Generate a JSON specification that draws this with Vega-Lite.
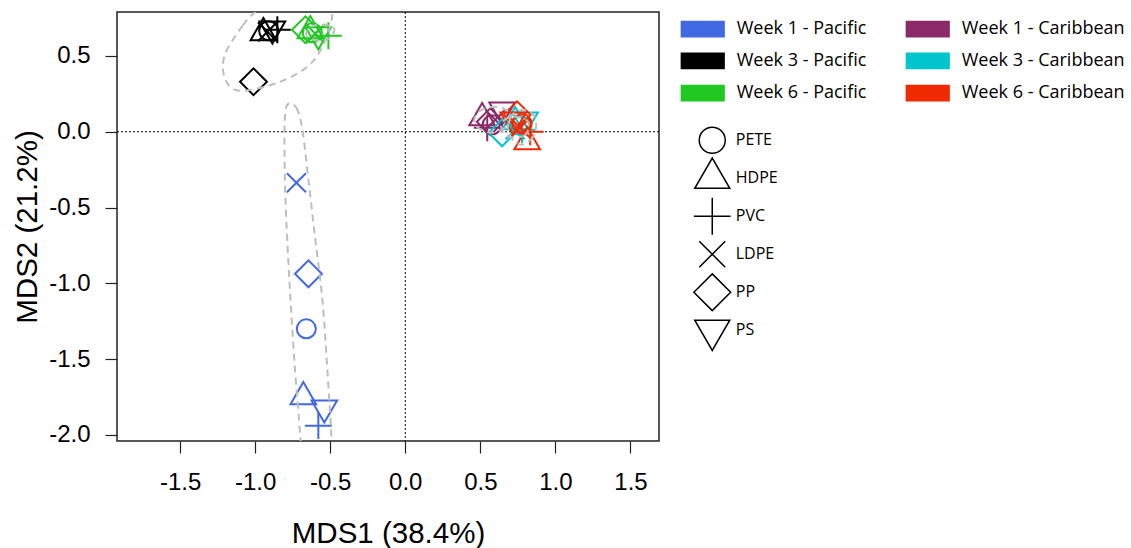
{
  "$schema": "https://vega.github.io/schema/vega-lite/v6.json",
  "width": 542,
  "height": 429,
  "autosize": "none",
  "padding": {"left": 117, "top": 12, "right": 472, "bottom": 107},
  "background": "white",
  "config": {"view": {"stroke": "#222222", "strokeWidth": 1.5}, "font": "Liberation Sans"},
  "datasets": {
    "pts": [
      {"group": "Week 1 - Pacific", "plastic": "LDPE", "MDS1": -0.725, "MDS2": -0.336},
      {"group": "Week 1 - Pacific", "plastic": "PP", "MDS1": -0.645, "MDS2": -0.937},
      {"group": "Week 1 - Pacific", "plastic": "PETE", "MDS1": -0.659, "MDS2": -1.300},
      {"group": "Week 1 - Pacific", "plastic": "HDPE", "MDS1": -0.679, "MDS2": -1.748},
      {"group": "Week 1 - Pacific", "plastic": "PS", "MDS1": -0.539, "MDS2": -1.821},
      {"group": "Week 1 - Pacific", "plastic": "PVC", "MDS1": -0.579, "MDS2": -1.939},
      {"group": "Week 3 - Pacific", "plastic": "PP", "MDS1": -1.011, "MDS2": 0.330},
      {"group": "Week 3 - Pacific", "plastic": "HDPE", "MDS1": -0.945, "MDS2": 0.653},
      {"group": "Week 3 - Pacific", "plastic": "PS", "MDS1": -0.885, "MDS2": 0.679},
      {"group": "Week 3 - Pacific", "plastic": "LDPE", "MDS1": -0.918, "MDS2": 0.660},
      {"group": "Week 3 - Pacific", "plastic": "PETE", "MDS1": -0.910, "MDS2": 0.666},
      {"group": "Week 3 - Pacific", "plastic": "PVC", "MDS1": -0.852, "MDS2": 0.673},
      {"group": "Week 6 - Pacific", "plastic": "PP", "MDS1": -0.665, "MDS2": 0.673},
      {"group": "Week 6 - Pacific", "plastic": "PETE", "MDS1": -0.619, "MDS2": 0.653},
      {"group": "Week 6 - Pacific", "plastic": "HDPE", "MDS1": -0.632, "MDS2": 0.666},
      {"group": "Week 6 - Pacific", "plastic": "LDPE", "MDS1": -0.599, "MDS2": 0.646},
      {"group": "Week 6 - Pacific", "plastic": "PS", "MDS1": -0.579, "MDS2": 0.640},
      {"group": "Week 6 - Pacific", "plastic": "PVC", "MDS1": -0.512, "MDS2": 0.633},
      {"group": "Week 1 - Caribbean", "plastic": "HDPE", "MDS1": 0.512, "MDS2": 0.092},
      {"group": "Week 1 - Caribbean", "plastic": "PS", "MDS1": 0.645, "MDS2": 0.145},
      {"group": "Week 1 - Caribbean", "plastic": "PP", "MDS1": 0.566, "MDS2": 0.066},
      {"group": "Week 1 - Caribbean", "plastic": "PETE", "MDS1": 0.579, "MDS2": 0.046},
      {"group": "Week 1 - Caribbean", "plastic": "LDPE", "MDS1": 0.599, "MDS2": 0.079},
      {"group": "Week 1 - Caribbean", "plastic": "PVC", "MDS1": 0.546, "MDS2": 0.026},
      {"group": "Week 3 - Caribbean", "plastic": "PP", "MDS1": 0.645, "MDS2": -0.007},
      {"group": "Week 3 - Caribbean", "plastic": "PETE", "MDS1": 0.765, "MDS2": 0.040},
      {"group": "Week 3 - Caribbean", "plastic": "HDPE", "MDS1": 0.732, "MDS2": 0.066},
      {"group": "Week 3 - Caribbean", "plastic": "PVC", "MDS1": 0.778, "MDS2": 0.013},
      {"group": "Week 3 - Caribbean", "plastic": "LDPE", "MDS1": 0.732, "MDS2": 0.013},
      {"group": "Week 3 - Caribbean", "plastic": "PS", "MDS1": 0.798, "MDS2": 0.079},
      {"group": "Week 6 - Caribbean", "plastic": "PP", "MDS1": 0.745, "MDS2": 0.112},
      {"group": "Week 6 - Caribbean", "plastic": "PETE", "MDS1": 0.778, "MDS2": 0.053},
      {"group": "Week 6 - Caribbean", "plastic": "HDPE", "MDS1": 0.812, "MDS2": -0.066},
      {"group": "Week 6 - Caribbean", "plastic": "PVC", "MDS1": 0.832, "MDS2": 0.000},
      {"group": "Week 6 - Caribbean", "plastic": "LDPE", "MDS1": 0.765, "MDS2": 0.026},
      {"group": "Week 6 - Caribbean", "plastic": "PS", "MDS1": 0.719, "MDS2": 0.079}
    ],
    "ell": [
      {"group": "W3P", "i": 1, "MDS1": -0.985, "MDS2": 0.805},
      {"group": "W3P", "i": 2, "MDS1": -1.084, "MDS2": 0.699},
      {"group": "W3P", "i": 3, "MDS1": -1.204, "MDS2": 0.501},
      {"group": "W3P", "i": 4, "MDS1": -1.198, "MDS2": 0.343},
      {"group": "W3P", "i": 5, "MDS1": -1.098, "MDS2": 0.270},
      {"group": "W3P", "i": 6, "MDS1": -0.852, "MDS2": 0.323},
      {"group": "W3P", "i": 7, "MDS1": -0.652, "MDS2": 0.429},
      {"group": "W3P", "i": 8, "MDS1": -0.546, "MDS2": 0.574},
      {"group": "W3P", "i": 9, "MDS1": -0.486, "MDS2": 0.772},
      {"group": "W3P", "i": 10, "MDS1": -0.532, "MDS2": 0.904},
      {"group": "W3P", "i": 11, "MDS1": -0.699, "MDS2": 0.950},
      {"group": "W3P", "i": 12, "MDS1": -0.865, "MDS2": 0.923},
      {"group": "W6P", "i": 1, "MDS1": -0.472, "MDS2": 0.673},
      {"group": "W6P", "i": 2, "MDS1": -0.499, "MDS2": 0.620},
      {"group": "W6P", "i": 3, "MDS1": -0.566, "MDS2": 0.600},
      {"group": "W6P", "i": 4, "MDS1": -0.645, "MDS2": 0.620},
      {"group": "W6P", "i": 5, "MDS1": -0.659, "MDS2": 0.653},
      {"group": "W6P", "i": 6, "MDS1": -0.632, "MDS2": 0.693},
      {"group": "W6P", "i": 7, "MDS1": -0.566, "MDS2": 0.706},
      {"group": "W6P", "i": 8, "MDS1": -0.499, "MDS2": 0.699},
      {"group": "W1P", "i": 1, "MDS1": -0.778, "MDS2": 0.185},
      {"group": "W1P", "i": 2, "MDS1": -0.725, "MDS2": 0.158},
      {"group": "W1P", "i": 3, "MDS1": -0.685, "MDS2": 0.013},
      {"group": "W1P", "i": 4, "MDS1": -0.645, "MDS2": -0.317},
      {"group": "W1P", "i": 5, "MDS1": -0.599, "MDS2": -0.712},
      {"group": "W1P", "i": 6, "MDS1": -0.552, "MDS2": -1.108},
      {"group": "W1P", "i": 7, "MDS1": -0.519, "MDS2": -1.570},
      {"group": "W1P", "i": 8, "MDS1": -0.492, "MDS2": -2.032},
      {"group": "W1P", "i": 9, "MDS1": -0.499, "MDS2": -2.230},
      {"group": "W1P", "i": 10, "MDS1": -0.592, "MDS2": -2.328},
      {"group": "W1P", "i": 11, "MDS1": -0.679, "MDS2": -2.230},
      {"group": "W1P", "i": 12, "MDS1": -0.699, "MDS2": -2.012},
      {"group": "W1P", "i": 13, "MDS1": -0.739, "MDS2": -1.504},
      {"group": "W1P", "i": 14, "MDS1": -0.772, "MDS2": -0.976},
      {"group": "W1P", "i": 15, "MDS1": -0.798, "MDS2": -0.449},
      {"group": "W1P", "i": 16, "MDS1": -0.805, "MDS2": -0.053},
      {"group": "W1P", "i": 17, "MDS1": -0.798, "MDS2": 0.132},
      {"group": "W1C", "i": 1, "MDS1": 0.699, "MDS2": 0.092},
      {"group": "W1C", "i": 2, "MDS1": 0.665, "MDS2": 0.026},
      {"group": "W1C", "i": 3, "MDS1": 0.579, "MDS2": -0.007},
      {"group": "W1C", "i": 4, "MDS1": 0.486, "MDS2": 0.026},
      {"group": "W1C", "i": 5, "MDS1": 0.459, "MDS2": 0.079},
      {"group": "W1C", "i": 6, "MDS1": 0.499, "MDS2": 0.139},
      {"group": "W1C", "i": 7, "MDS1": 0.592, "MDS2": 0.165},
      {"group": "W1C", "i": 8, "MDS1": 0.672, "MDS2": 0.145},
      {"group": "W3C", "i": 1, "MDS1": 0.825, "MDS2": 0.033},
      {"group": "W3C", "i": 2, "MDS1": 0.798, "MDS2": -0.020},
      {"group": "W3C", "i": 3, "MDS1": 0.732, "MDS2": -0.040},
      {"group": "W3C", "i": 4, "MDS1": 0.659, "MDS2": -0.013},
      {"group": "W3C", "i": 5, "MDS1": 0.639, "MDS2": 0.040},
      {"group": "W3C", "i": 6, "MDS1": 0.672, "MDS2": 0.086},
      {"group": "W3C", "i": 7, "MDS1": 0.739, "MDS2": 0.099},
      {"group": "W3C", "i": 8, "MDS1": 0.805, "MDS2": 0.079},
      {"group": "W6C", "i": 1, "MDS1": 0.872, "MDS2": 0.046},
      {"group": "W6C", "i": 2, "MDS1": 0.852, "MDS2": -0.033},
      {"group": "W6C", "i": 3, "MDS1": 0.778, "MDS2": -0.086},
      {"group": "W6C", "i": 4, "MDS1": 0.705, "MDS2": -0.040},
      {"group": "W6C", "i": 5, "MDS1": 0.685, "MDS2": 0.040},
      {"group": "W6C", "i": 6, "MDS1": 0.712, "MDS2": 0.112},
      {"group": "W6C", "i": 7, "MDS1": 0.785, "MDS2": 0.145},
      {"group": "W6C", "i": 8, "MDS1": 0.852, "MDS2": 0.112}
    ]
  },
  "layer": [
    {
      "data": {"values": [{}]},
      "mark": {"type": "rule", "color": "black", "strokeWidth": 1, "strokeDash": [2, 2]},
      "encoding": {"x": {"datum": 0, "type": "quantitative"}}
    },
    {
      "data": {"values": [{}]},
      "mark": {"type": "rule", "color": "black", "strokeWidth": 1, "strokeDash": [2, 2]},
      "encoding": {"y": {"datum": 0, "type": "quantitative"}}
    },
    {
      "data": {"name": "pts"},
      "mark": {"type": "point", "filled": false, "size": 361, "opacity": 1, "clip": true},
      "encoding": {
        "strokeWidth": {"value": 2},
        "x": {
          "field": "MDS1", "type": "quantitative",
          "scale": {"domain": [-1.92, 1.69], "nice": false, "zero": false},
          "axis": {
            "values": [-1.5, -1, -0.5, 0, 0.5, 1, 1.5],
            "labelExpr": "replace(format(datum.value, '.1f'), '\u2212', '-')",
            "domain": false, "grid": false, "tickSize": 12, "tickColor": "#222222", "tickWidth": 1.2,
            "labelFont": "Liberation Sans", "labelFontSize": 24, "labelColor": "black", "labelPadding": 17,
            "title": "MDS1 (38.4%)", "titleFont": "Liberation Sans", "titleFontSize": 29.5,
            "titleFontWeight": "normal", "titleColor": "black", "titlePadding": 25
          }
        },
        "y": {
          "field": "MDS2", "type": "quantitative",
          "scale": {"domain": [-2.04, 0.79], "nice": false, "zero": false},
          "axis": {
            "values": [-2, -1.5, -1, -0.5, 0, 0.5],
            "labelExpr": "replace(format(datum.value, '.1f'), '\u2212', '-')",
            "domain": false, "grid": false, "tickSize": 12, "tickColor": "#222222", "tickWidth": 1.2,
            "labelFont": "Liberation Sans", "labelFontSize": 24, "labelColor": "black", "labelPadding": 15,
            "title": "MDS2 (21.2%)", "titleFont": "Liberation Sans", "titleFontSize": 29.5,
            "titleFontWeight": "normal", "titleColor": "black", "titlePadding": 6
          }
        },
        "color": {
          "field": "group", "type": "nominal",
          "scale": {
            "domain": ["Week 1 - Pacific", "Week 3 - Pacific", "Week 6 - Pacific", "Week 1 - Caribbean", "Week 3 - Caribbean", "Week 6 - Caribbean"],
            "range": ["#4169E1", "#000000", "#22C822", "#8B2A68", "#00C5CD", "#F02A00"]
          },
          "legend": {
            "orient": "none", "legendX": 576.25, "legendY": 7.25, "columns": 2, "columnPadding": 35, "rowPadding": 9.2,
            "symbolType": "M-2.6,-0.9H2.6M-2.6,-0.8H2.6M-2.6,-0.7H2.6M-2.6,-0.6H2.6M-2.6,-0.5H2.6M-2.6,-0.4H2.6M-2.6,-0.3H2.6M-2.6,-0.2H2.6M-2.6,-0.1H2.6M-2.6,0H2.6M-2.6,0.1H2.6M-2.6,0.2H2.6M-2.6,0.3H2.6M-2.6,0.4H2.6M-2.6,0.5H2.6M-2.6,0.6H2.6M-2.6,0.7H2.6M-2.6,0.8H2.6M-2.6,0.9H2.6",
            "symbolSize": 289, "symbolStrokeWidth": 1.5,
            "labelFont": "Open Sans", "labelFontSize": 18, "labelColor": "black", "labelOffset": 24.5, "labelLimit": 400,
            "title": null, "padding": 0
          }
        },
        "shape": {
          "field": "plastic", "type": "nominal",
          "scale": {
            "domain": ["PETE", "HDPE", "PVC", "LDPE", "PP", "PS"],
            "range": [
              "circle",
              "M-1.347,0.778L1.347,0.778L0,-1.555Z",
              "M-1.414,0H1.414M0,-1.414V1.414",
              "M-1,-1L1,1M-1,1L1,-1",
              "M-1.414,0L0,-1.414L1.414,0L0,1.414Z",
              "M-1.347,-0.778L1.347,-0.778L0,1.555Z"
            ]
          },
          "legend": {
            "orient": "none", "legendX": 581.25, "legendY": 114.25, "rowPadding": -10.1, "gridAlign": "all",
            "symbolSize": 676, "symbolStrokeColor": "black", "symbolStrokeWidth": 1.5, "symbolFillColor": "transparent",
            "labelFont": "Open Sans", "labelFontSize": 16, "labelColor": "black", "labelOffset": 9.5,
            "title": null, "padding": 0
          }
        }
      }
    },
    {
      "data": {"name": "ell"},
      "mark": {"type": "line", "interpolate": "cardinal-closed", "color": "#BEBEBE", "strokeWidth": 2, "strokeDash": [7, 5], "clip": true},
      "encoding": {
        "x": {"field": "MDS1", "type": "quantitative", "title": "MDS1 (38.4%)"},
        "y": {"field": "MDS2", "type": "quantitative", "title": "MDS2 (21.2%)"},
        "detail": {"field": "group", "type": "nominal"},
        "order": {"field": "i", "type": "quantitative"}
      }
    }
  ]
}
